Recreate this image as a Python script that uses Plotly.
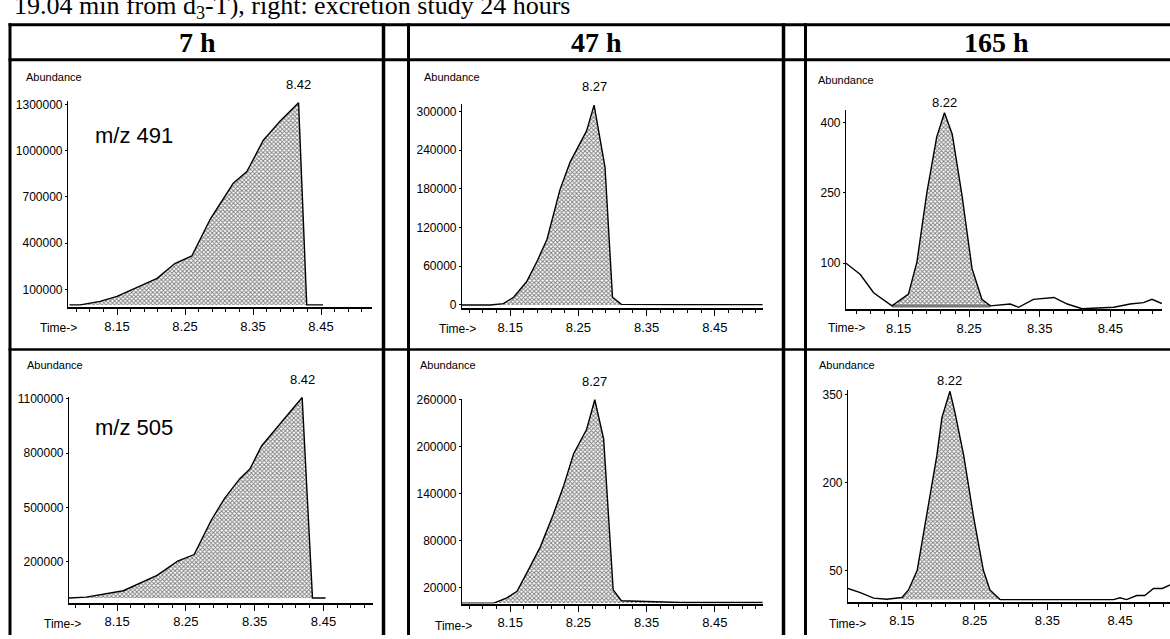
import plotly.graph_objects as go

W, H = 1170, 639


def px(x):
    return x / W


def py(y):
    return 1 - y / H


# ---------------- data ----------------
x_tick_vals = [8.15, 8.25, 8.35, 8.45]
x_tick_text = ["8.15", "8.25", "8.35", "8.45"]

headers = ["7 h", "47 h", "165 h"]
ions = ["m/z 491", "m/z 505"]

# 7 h, m/z 491
t7_491 = [8.080, 8.096, 8.125, 8.150, 8.209, 8.235, 8.260, 8.287, 8.301, 8.321,
          8.341, 8.365, 8.390, 8.417, 8.429, 8.453]
a7_491 = [0, 0, 23000, 55000, 172000, 268000, 317000, 555000, 651000, 789000,
          864000, 1066000, 1193000, 1310000, 0, 0]
y7_491_ticks = [100000, 400000, 700000, 1000000, 1300000]

# 7 h, m/z 505
t7_505 = [8.080, 8.105, 8.159, 8.208, 8.238, 8.262, 8.287, 8.306, 8.328, 8.343,
          8.360, 8.380, 8.400, 8.419, 8.434, 8.453]
a7_505 = [0, 5000, 40000, 125000, 204000, 240000, 431000, 549000, 658000, 713000,
          840000, 931000, 1022000, 1108000, 0, 0]
y7_505_ticks = [200000, 500000, 800000, 1100000]

# 47 h, m/z 491
t47_491 = [8.079, 8.121, 8.140, 8.155, 8.174, 8.189, 8.204, 8.223, 8.238, 8.250,
           8.262, 8.273, 8.284, 8.289, 8.300, 8.313, 8.400, 8.520]
a47_491 = [0, 0, 2000, 12000, 36000, 67000, 102000, 179000, 222000, 247000,
           270000, 310000, 240000, 214000, 12000, 1000, 500, 500]
y47_491_ticks = [0, 60000, 120000, 180000, 240000, 300000]

# 47 h, m/z 505
t47_505 = [8.079, 8.126, 8.145, 8.160, 8.174, 8.194, 8.213, 8.228, 8.243, 8.262,
           8.274, 8.287, 8.301, 8.313, 8.400, 8.520]
a47_505 = [0, 0, 6700, 15000, 38000, 71600, 113000, 149000, 191000, 222000,
           260000, 210000, 17000, 3000, 800, 800]
y47_505_ticks = [20000, 80000, 140000, 200000, 260000]

# 165 h, m/z 491 (whole trace, integrated peak between 8.1406 and 8.280)
t165_491 = [8.0755, 8.0958, 8.1146, 8.1406, 8.164, 8.176, 8.190, 8.204, 8.215, 8.226,
            8.240, 8.254, 8.268, 8.280, 8.308, 8.320, 8.341, 8.370, 8.389, 8.410,
            8.455, 8.478, 8.497, 8.509, 8.523]
a165_491 = [100, 76, 37, 9, 34, 103, 250, 369, 421, 375,
            243, 89, 23, 9, 13, 6, 23, 27, 13, 3,
            6, 13, 16, 23, 14]
base165_491_t = [8.1406, 8.280]
base165_491_a = [9, 9]
y165_491_ticks = [100, 250, 400]

# 165 h, m/z 505 (integrated peak between 8.150 and 8.285)
t165_505 = [8.0758, 8.0927, 8.111, 8.129, 8.150, 8.159, 8.171, 8.184, 8.198, 8.205,
            8.216, 8.223, 8.235, 8.248, 8.262, 8.271, 8.285, 8.322, 8.441, 8.450,
            8.459, 8.473, 8.484, 8.496, 8.508, 8.519]
a165_505 = [19, 12, 2.5, 0.7, 3.5, 16.5, 50, 145, 246, 311,
            356, 319, 246, 145, 50, 16.5, 0, 0, 0, 3,
            0, 7, 7, 19, 19, 25]
y165_505_ticks = [50, 200, 350]

peak_labels = ["8.42", "8.42", "8.27", "8.27", "8.22", "8.22"]

# ---------------- layout helpers ----------------
SANS = "Liberation Sans, Arial, sans-serif"
SERIF = "Liberation Serif, Times New Roman, serif"

panels = [
    dict(t=t7_491, a=a7_491, box=(68, 372, 97, 306), xr=[8.0779, 8.525],
         yr=[-15000, 1319000], yt=y7_491_ticks, kind="full", col=0,
         abund=(54, 72), time=(58, 327)),
    dict(t=t7_505, a=a7_505, box=(69, 373, 397, 606), xr=[8.080, 8.522],
         yr=[-25000, 1112000], yt=y7_505_ticks, kind="full", col=0,
         abund=(55, 365), time=(62, 628)),
    dict(t=t47_491, a=a47_491, box=(462, 763, 100, 307), xr=[8.0793, 8.5207],
         yr=[-5000, 311100], yt=y47_491_ticks, kind="full", col=1,
         abund=(452, 72), time=(457, 328)),
    dict(t=t47_505, a=a47_505, box=(462, 763, 399, 607), xr=[8.0793, 8.5207],
         yr=[-500, 261300], yt=y47_505_ticks, kind="full", col=1,
         abund=(448, 365), time=(453, 630)),
    dict(t=t165_491, a=a165_491, box=(846, 1162, 106, 308), xr=[8.0755, 8.5232],
         yr=[2, 426], yt=y165_491_ticks, kind="base", col=2,
         abund=(846, 75), time=(846, 327)),
    dict(t=t165_505, a=a165_505, box=(848, 1170, 390, 605), xr=[8.0758, 8.5187],
         yr=[-3.3, 358.4], yt=y165_505_ticks, kind="zero", col=2,
         abund=(847, 365), time=(847, 628)),
]

pattern = dict(shape="x", fgcolor="black", bgcolor="white", size=3, solidity=0.55)

fig = go.Figure()
layout = dict(
    width=W, height=H, autosize=False,
    margin=dict(l=0, r=0, t=0, b=0),
    paper_bgcolor="white", plot_bgcolor="rgba(0,0,0,0)",
    showlegend=False,
)
annotations = []

for i, p in enumerate(panels, start=1):
    xa = "x" if i == 1 else f"x{i}"
    ya = "y" if i == 1 else f"y{i}"
    t, a = p["t"], p["a"]
    if p["kind"] == "full":
        fig.add_trace(go.Scatter(x=t, y=a, xaxis=xa, yaxis=ya, mode="lines",
                                 line=dict(color="black", width=1.4),
                                 fill="tozeroy", fillpattern=pattern,
                                 hoverinfo="skip"))
    elif p["kind"] == "base":
        i0 = t.index(base165_491_t[0])
        i1 = t.index(base165_491_t[1])
        poly_t = t[i0:i1 + 1] + base165_491_t[::-1]
        poly_a = a[i0:i1 + 1] + base165_491_a[::-1]
        fig.add_trace(go.Scatter(x=poly_t, y=poly_a, xaxis=xa, yaxis=ya, mode="lines",
                                 line=dict(width=0), fill="toself",
                                 fillpattern=pattern, hoverinfo="skip"))
        fig.add_trace(go.Scatter(x=base165_491_t, y=base165_491_a, xaxis=xa, yaxis=ya,
                                 mode="lines", line=dict(color="#777777", width=3),
                                 hoverinfo="skip"))
        fig.add_trace(go.Scatter(x=t, y=a, xaxis=xa, yaxis=ya, mode="lines",
                                 line=dict(color="black", width=1.4), hoverinfo="skip"))
    else:
        i0 = t.index(8.150)
        i1 = t.index(8.285)
        fig.add_trace(go.Scatter(x=t[i0:i1 + 1], y=a[i0:i1 + 1], xaxis=xa, yaxis=ya,
                                 mode="lines", line=dict(width=0), fill="tozeroy",
                                 fillpattern=pattern, hoverinfo="skip"))
        fig.add_trace(go.Scatter(x=t, y=a, xaxis=xa, yaxis=ya, mode="lines",
                                 line=dict(color="black", width=1.4), hoverinfo="skip"))

    x0, x1, ytop, ybot = p["box"]
    xkey = "xaxis" if i == 1 else f"xaxis{i}"
    ykey = "yaxis" if i == 1 else f"yaxis{i}"
    layout[xkey] = dict(
        domain=[px(x0), px(x1)], range=p["xr"], anchor=ya,
        showline=True, linecolor="black", linewidth=2,
        ticks="outside", ticklen=6, tickwidth=1.3, tickcolor="black",
        tickmode="array", tickvals=x_tick_vals, ticktext=x_tick_text,
        tickfont=dict(family=SANS, size=13, color="black"),
        minor=dict(tickmode="linear", tick0=8.15, dtick=0.02, ticks="outside",
                   ticklen=3, tickwidth=1, tickcolor="black", showgrid=False),
        showgrid=False, zeroline=False, fixedrange=True,
    )
    layout[ykey] = dict(
        domain=[py(ybot), py(ytop)], range=p["yr"], anchor=xa,
        showline=True, linecolor="black", linewidth=1.2,
        ticks="outside", ticklen=2, tickwidth=1, tickcolor="black",
        tickmode="array", tickvals=p["yt"], ticktext=[str(v) for v in p["yt"]],
        tickfont=dict(family=SANS, size=12, color="black"),
        ticklabelstandoff=0,
        showgrid=False, zeroline=False, fixedrange=True,
    )

    ax_, ay_ = p["abund"]
    annotations.append(dict(xref="paper", yref="paper", x=px(ax_), y=py(ay_),
                            text="Abundance", showarrow=False, xanchor="center",
                            yanchor="middle",
                            font=dict(family=SANS, size=11, color="black")))
    tx_, ty_ = p["time"]
    annotations.append(dict(xref="paper", yref="paper", x=px(tx_), y=py(ty_),
                            text="Time-&gt;", showarrow=False, xanchor="center",
                            yanchor="middle",
                            font=dict(family=SANS, size=12, color="black")))
    kmax = max(range(len(a)), key=lambda k: a[k])
    annotations.append(dict(xref=xa, yref=ya, x=t[kmax], y=a[kmax],
                            text=peak_labels[i - 1], showarrow=False,
                            xanchor="center", yanchor="bottom",
                            yshift=9 if p["col"] < 2 else 1,
                            font=dict(family=SANS, size=13, color="black")))

# ion labels
annotations.append(dict(xref="paper", yref="paper", x=px(93), y=py(132), text=ions[0],
                        showarrow=False, xanchor="left", yanchor="middle",
                        font=dict(family=SANS, size=22, color="black")))
annotations.append(dict(xref="paper", yref="paper", x=px(93), y=py(428), text=ions[1],
                        showarrow=False, xanchor="left", yanchor="middle",
                        font=dict(family=SANS, size=22, color="black")))

# column headers
for cx, h in zip([197, 596, 996], headers):
    annotations.append(dict(xref="paper", yref="paper", x=px(cx), y=py(37), text=f"<b>{h}</b>",
                            showarrow=False, xanchor="center", yanchor="middle",
                            font=dict(family=SERIF, size=28, color="black")))

# cut-off caption line at the very top
annotations.append(dict(xref="paper", yref="paper", x=px(12), y=py(19.5),
                        text="19.04 min from d<sub>3</sub>-T), right: excretion study 24 hours",
                        showarrow=False, xanchor="left", yanchor="bottom",
                        font=dict(family=SERIF, size=26, color="black")))

# table frame
shapes = []


def hline(y, x0, x1, w):
    shapes.append(dict(type="line", xref="paper", yref="paper", x0=px(x0), x1=px(x1),
                       y0=py(y), y1=py(y), line=dict(color="black", width=w)))


def vline(x, y0, y1, w):
    shapes.append(dict(type="line", xref="paper", yref="paper", x0=px(x), x1=px(x),
                       y0=py(y0), y1=py(y1), line=dict(color="black", width=w)))


hline(19, 8.5, 1170, 3)
hline(54.5, 8.5, 1170, 3)
hline(349, 8.5, 1170, 2.5)
vline(10, 17.5, 639, 3)
vline(383.5, 17.5, 639, 3.5)
vline(408.5, 17.5, 639, 3)
vline(783.5, 17.5, 639, 3.5)
vline(805.5, 17.5, 639, 3)

layout["annotations"] = annotations
layout["shapes"] = shapes
fig.update_layout(**layout)

fig.write_html("out.html", config={"displayModeBar": False})
